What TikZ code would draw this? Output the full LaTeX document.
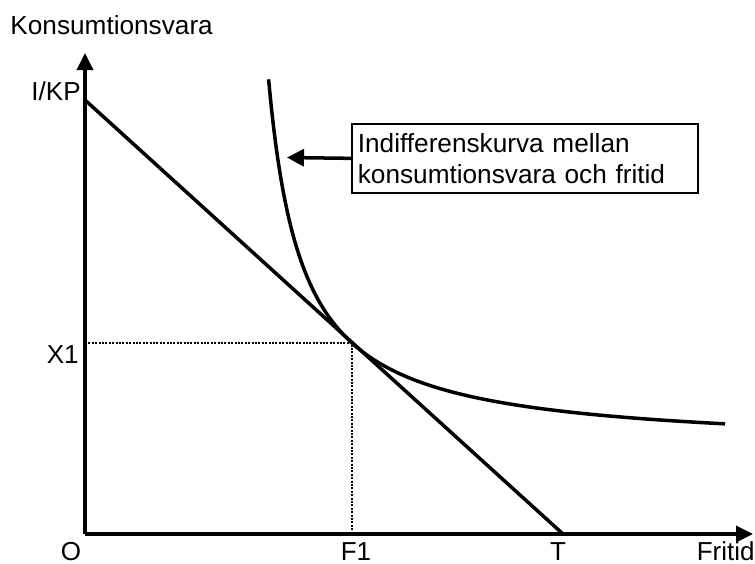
\documentclass[tikz,border=0pt]{standalone}
\usepackage{fontspec}
\setmainfont{Liberation Sans}
\usetikzlibrary{arrows.meta}
\begin{document}
\begin{tikzpicture}[x=0.5pt,y=-0.5pt,
  lbl/.style={inner sep=0pt, font=\fontsize{13}{15}\selectfont},
  biglbl/.style={inner sep=0pt, font=\fontsize{13.1}{15.5}\selectfont},
  curveline/.style={line width=1.75pt},
  axis/.style={line width=1.75pt, -{Triangle[length=8.5pt,width=8pt]}},
  guide/.style={line width=1pt, dash pattern=on 1pt off 0.7pt},
  notebox/.style={draw, line width=0.85pt, inner xsep=3pt, inner ysep=0pt,
    text width=167pt, minimum height=34.5pt, align=left, anchor=north west,
    font=\fontsize{13.1}{15.5}\selectfont},
  pointer/.style={line width=1.75pt, -{Triangle[length=8.5pt,width=8.5pt]}},
]
\useasboundingbox (0,0) rectangle (755,563);
% axes
\coordinate (O) at (85,534);
\coordinate (ytop) at (85,53);
\coordinate (xend) at (753,534);
\draw[axis] (O) -- (ytop);
\draw[axis] (O) -- (xend);
% budget line
\coordinate (ikp) at (85,100);
\coordinate (T) at (563,534);
\draw[curveline] (ikp) -- (T);
% tangency point and guides
\coordinate (E) at (352,343);
\draw[guide] (O |- E) -- (E) -- (O -| E);
% indifference curve
\draw[curveline] plot[domain=268.6:725, samples=200, smooth] (\x, {449.2 - 12428/(\x-235)});
% note box and pointer
\node[notebox] (box) at (351,123) {Indifferenskurva mellan\\konsumtionsvara och fritid};
\coordinate (tip) at (287,157.5);
\draw[pointer] (box.west) -- (tip);
% labels
\node[biglbl, anchor=base west] (ylab) at (10,34) {Konsumtionsvara};
\node[lbl, anchor=base east] (ikplab) at (81,100) {I/KP};
\node[lbl, anchor=base east] (x1lab) at (79,363) {X1};
\node[lbl, anchor=base] (olab) at (71,560) {O};
\node[lbl, anchor=base] (f1lab) at (356,560) {F1};
\node[lbl, anchor=base] (tlab) at (558,560) {T};
\node[lbl, anchor=base east] (xlab) at (755,560) {Fritid};
\end{tikzpicture}
\end{document}
